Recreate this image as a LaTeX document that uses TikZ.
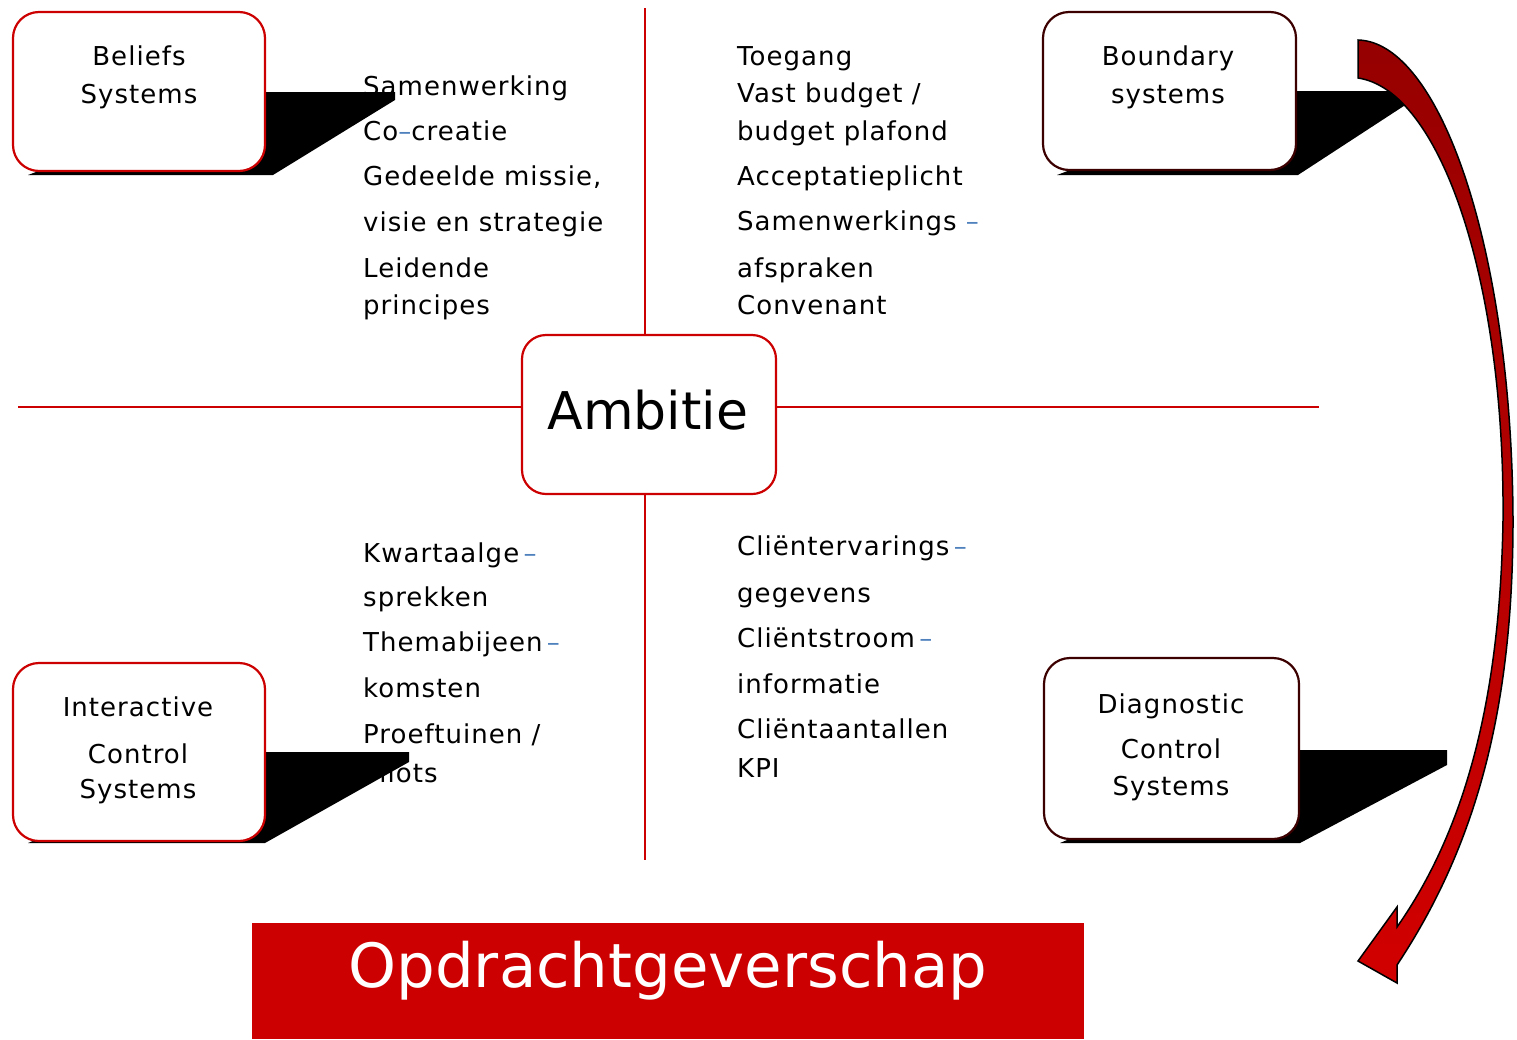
\documentclass[tikz,border=0pt]{standalone}
\usepackage{fontspec}
\setmainfont{DejaVu Sans}
\newfontfamily\listfont{DejaVu Sans}[LetterSpace=4]

\definecolor{linered}{RGB}{204,0,0}
\definecolor{darkrim}{RGB}{60,0,0}
\definecolor{dashblue}{RGB}{79,129,189}
\definecolor{arrowtop}{RGB}{150,0,0}
\definecolor{arrowbot}{RGB}{210,0,0}

\newcommand{\bluedash}{\textcolor{dashblue}{–}}

\tikzset{
    sysbox/.style={draw=linered, line width=2.2pt, fill=white, rounded corners=26pt},
    darkbox/.style={sysbox, draw=darkrim},
    boxtext/.style={anchor=base, inner sep=0pt, font=\listfont\fontsize{26}{30}\selectfont},
    listtext/.style={anchor=base west, inner sep=0pt, font=\listfont\fontsize{26}{30}\selectfont},
    dropshadow/.style={fill=black},
    crossline/.style={draw=linered, line width=2pt},
    arrowrim/.style={draw=black, line width=1.5pt, top color=arrowtop, bottom color=arrowbot},
}

\begin{document}
\begin{tikzpicture}[x=1pt, y=-1pt]
        \useasboundingbox (0,0) rectangle (1517,1039);

        % cross
        \coordinate (xl) at (18,407);
        \coordinate (xr) at (1319,407);
        \coordinate (yt) at (645,8);
        \coordinate (yb) at (645,860);
        \draw[crossline] (xl) -- (xr);
        \draw[crossline] (yt) -- (yb);

        % place the lists
        \foreach \y/\t [count=\i] in {95/Samenwerking, 140/{Co\bluedash creatie},
                185/{Gedeelde missie,}, 231/visie en strategie, 277/Leidende, 314/principes}
            \node[listtext] (bel\i) at (363,\y) {\t};
        \foreach \y/\t [count=\i] in {65/Toegang, 102/{Vast budget {/}}, 140/budget plafond,
                185/Acceptatieplicht, 230/{Samenwerkings \bluedash}, 277/afspraken, 314/Convenant}
            \node[listtext] (bnd\i) at (737,\y) {\t};
        \foreach \y/\t [count=\i] in {562/{Kwartaalge\,\bluedash}, 606/sprekken, 651/{Themabijeen\,\bluedash},
                697/komsten, 743/{Proeftuinen {/}}, 782/Pilots}
            \node[listtext] (int\i) at (363,\y) {\t};
        \foreach \y/\t [count=\i] in {555/{Cliëntervarings\,\bluedash}, 602/gegevens, 647/{Cliëntstroom\,\bluedash},
                693/informatie, 738/Cliëntaantallen, 777/KPI}
            \node[listtext] (dia\i) at (737,\y) {\t};

        % shadows
        \fill[dropshadow] (28,175) -- (273,175) -- (395,100) -- (395,92) -- (250,92) -- cycle;
        \fill[dropshadow] (1057,175) -- (1298,175) -- (1413,100) -- (1413,91) -- (1280,91) -- cycle;
        \fill[dropshadow] (28,843) -- (265,843) -- (409,762) -- (409,752) -- (250,752) -- cycle;
        \fill[dropshadow] (1060,843) -- (1300,843) -- (1447,765) -- (1447,750) -- (1280,750) -- cycle;

        % place boxes
        \node[sysbox, minimum width=252pt, minimum height=159pt] at (139,91.5) (beliefs) {};
        \node[darkbox, minimum width=253pt, minimum height=158pt] at (1169.5,91) (boundary) {};
        \node[sysbox, minimum width=252pt, minimum height=178pt] at (139,752) (interactive) {};
        \node[darkbox, minimum width=255pt, minimum height=181pt] at (1171.5,748.5) (diagnostic) {};
        \node[sysbox, rounded corners=24pt, minimum width=254pt, minimum height=159pt] at (649,414.5) (ambitie) {};

        \node[boxtext] at (139,65)   (beliefs1) {Beliefs};
        \node[boxtext] at (139,103)  (beliefs2) {Systems};
        \node[boxtext] at (1168,65)  (boundary1) {Boundary};
        \node[boxtext] at (1168,103) (boundary2) {systems};
        \node[boxtext] at (138,716)  (interactive1) {Interactive};
        \node[boxtext] at (138,763)  (interactive2) {Control};
        \node[boxtext] at (138,798)  (interactive3) {Systems};
        \node[boxtext] at (1171,713) (diagnostic1) {Diagnostic};
        \node[boxtext] at (1171,758) (diagnostic2) {Control};
        \node[boxtext] at (1171,795) (diagnostic3) {Systems};
        \node[anchor=base, inner sep=0pt, font=\fontsize{52}{60}\selectfont] at (648,429) (ambitietxt) {Ambitie};

        % banner
        \node[fill=linered, anchor=north west, minimum width=832pt, minimum height=116pt, inner sep=0pt] at (252,923) (banner) {};
        \node[anchor=base, inner sep=0pt, text=white, font=\fontsize{61}{70}\selectfont] at (668,987) (bannertxt) {Opdrachtgeverschap};

        % curved arrow
        \draw[arrowrim] (1358,40) .. controls (1440,42) and (1512,250) .. (1513,520)
            .. controls (1513,700) and (1480,840) .. (1397,965) -- (1397,983) -- (1358,961)
            -- (1397,907) -- (1397,927) .. controls (1465,830) and (1500,700) .. (1503,520)
            .. controls (1505,280) and (1440,90) .. (1358,78) -- cycle;
\end{tikzpicture}
\end{document}
